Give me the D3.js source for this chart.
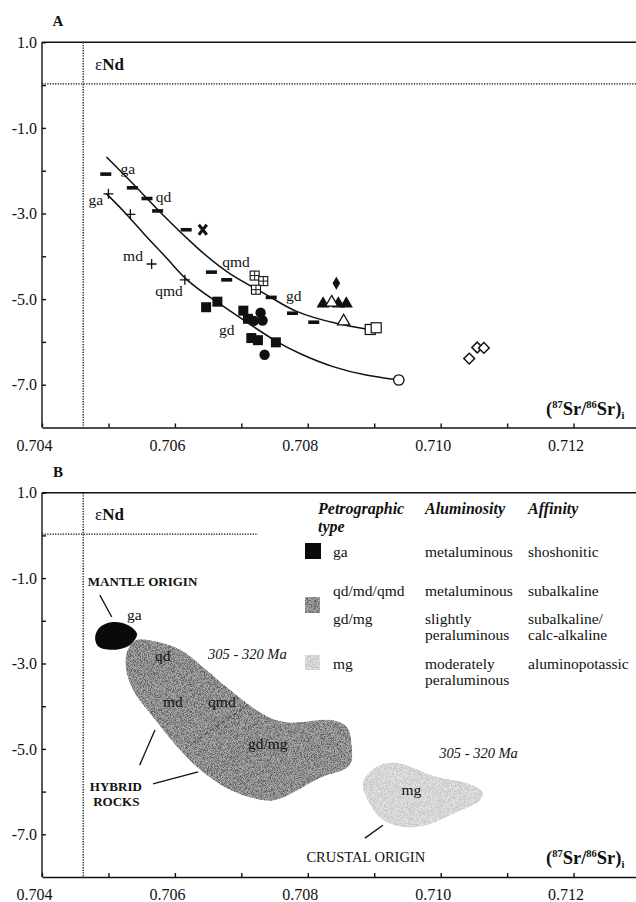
<!DOCTYPE html>
<meta charset="utf-8">
<style>
  body { margin: 0; background: #fff; }
  svg text { font-family: "Liberation Serif", "Times New Roman", serif; fill: #111; }
  .axis path, .axis line { stroke: #111; stroke-width: 1.4; }
  .axis text { font-size: 16px; }
</style>
<svg width="636" height="902"></svg>
<script src="https://d3js.org/d3.v7.min.js"></script>
<script>
// ---- data ----
var xTicks = [0.704, 0.705, 0.706, 0.707, 0.708, 0.709, 0.710, 0.711, 0.712];
var xTickLabels = ["0.704", "0.706", "0.708", "0.710", "0.712"];
var yTicks = [1, 0, -1, -2, -3, -4, -5, -6, -7];
var yTickLabels = ["1.0", "-1.0", "-3.0", "-5.0", "-7.0"];

// panel A samples [87Sr/86Sr_i, eNd]
var barPts = [[0.70496, -2.08], [0.70536, -2.40], [0.70558, -2.65], [0.70574, -2.94], [0.70617, -3.38],
              [0.70655, -4.37], [0.70678, -4.55], [0.70745, -4.96], [0.70777, -5.33], [0.70809, -5.54]];
var crossPts = [[0.70642, -3.38]];
var gridSqPts = [[0.70720, -4.45], [0.70733, -4.58], [0.70722, -4.78]];
var plusPts = [[0.70500, -2.54], [0.70533, -3.02], [0.70565, -4.18], [0.70615, -4.55]];
var filledSqPts = [[0.70647, -5.19], [0.70664, -5.06], [0.70703, -5.27], [0.70710, -5.46],
                   [0.70715, -5.91], [0.70725, -5.96], [0.70752, -6.01]];
var filledCirclePts = [[0.70719, -5.51], [0.70729, -5.32], [0.70732, -5.50], [0.70735, -6.30]];
var filledTriPts = [[0.70823, -5.11], [0.70846, -5.11], [0.70858, -5.11]];
var openTriPts = [[0.70836, -5.08], [0.70854, -5.52]];
var filledDiamondPts = [[0.70843, -4.63]];
var openSqPts = [[0.70894, -5.71], [0.70903, -5.67]];
var openCirclePts = [[0.70937, -6.89]];
var openDiamondPts = [[0.71043, -6.39], [0.71055, -6.13], [0.71065, -6.14]];

// trend curves
var upperTrend = [[0.70497, -1.68], [0.70547, -2.46], [0.70577, -2.97], [0.70635, -3.84], [0.70683, -4.45],
                  [0.70743, -4.92], [0.70777, -5.30], [0.70848, -5.60], [0.70888, -5.70]];
var lowerTrend = [[0.70497, -2.54], [0.70527, -3.00], [0.70557, -3.55], [0.70592, -4.10], [0.70615, -4.55],
                  [0.70663, -5.07], [0.70698, -5.43], [0.70753, -6.01], [0.70788, -6.28], [0.70838, -6.60],
                  [0.70888, -6.79], [0.70937, -6.89]];

var aLabels = [["ga", 0.70529, -2.08], ["qd", 0.70583, -2.72], ["ga", 0.70481, -2.81], ["md", 0.70537, -4.12],
               ["qmd", 0.70692, -4.24], ["qmd", 0.70591, -4.92], ["gd", 0.70779, -5.04], ["gd", 0.70678, -5.83]];

// panel B fields
var gaField = [[0.70480, -2.37], [0.70487, -2.15], [0.70507, -2.03], [0.70529, -2.10], [0.70543, -2.31],
               [0.70532, -2.57], [0.70505, -2.68], [0.70484, -2.59]];
var hybridField = [[0.70542, -2.45], [0.70567, -2.47], [0.70608, -2.68], [0.70642, -3.08], [0.70687, -3.67],
                   [0.70728, -4.14], [0.70765, -4.37], [0.70838, -4.33], [0.70859, -4.49], [0.70866, -4.91],
                   [0.70863, -5.38], [0.70818, -5.68], [0.70750, -6.20], [0.70717, -6.15], [0.70678, -5.92],
                   [0.70638, -5.49], [0.70608, -5.03], [0.70567, -4.25], [0.70537, -3.62], [0.70526, -3.08],
                   [0.70529, -2.68]];
var mgField = [[0.70883, -5.80], [0.70904, -5.42], [0.70934, -5.33], [0.70994, -5.66], [0.71039, -5.80],
               [0.71063, -6.01], [0.71059, -6.20], [0.71024, -6.48], [0.70979, -6.78], [0.70943, -6.83],
               [0.70913, -6.66], [0.70893, -6.27]];
var qmdDash = [[0.70710, -3.97], [0.70627, -4.86]];
var pointers = [[[0.70487, -1.40], [0.70505, -1.91]], [[0.70547, -5.38], [0.70570, -4.56]],
                [[0.70567, -5.82], [0.70635, -5.54]], [[0.70886, -7.09], [0.70913, -6.79]]];
var bLabels = [["MANTLE ORIGIN", 0.70469, -1.19, "cap"], ["ga", 0.70528, -1.98, "n"], ["qd", 0.70570, -2.94, "n"],
               ["305 - 320 Ma", 0.70650, -2.90, "it"], ["md", 0.70582, -4.02, "n"], ["qmd", 0.70650, -4.02, "n"],
               ["gd/mg", 0.70710, -5.00, "n"], ["HYBRID", 0.70472, -5.99, "cap"], ["ROCKS", 0.70477, -6.34, "cap"],
               ["305 - 320 Ma", 0.70998, -5.21, "it"], ["mg", 0.70941, -6.08, "n"], ["CRUSTAL ORIGIN", 0.70798, -7.65, "cap2"]];

var legendTypes = ["ga", "qd/md/qmd", "gd/mg", "mg"];
var legendAlum = [["metaluminous"], ["metaluminous"], ["slightly", "peraluminous"], ["moderately", "peraluminous"]];
var legendAff = [["shoshonitic"], ["subalkaline"], ["subalkaline/", "calc-alkaline"], ["aluminopotassic"]];

// ---- scales ----
var svg = d3.select("svg");
var x = d3.scaleLinear().domain([0.704, 0.713]).range([42, 640]);
var yA = d3.scaleLinear().domain([-8, 1]).range([427.5, 42.3]);
var yB = d3.scaleLinear().domain([-8, 1]).range([877, 492.7]);

// grainy textures for the fields
var defs = svg.append("defs");
function grain(id, amount, seed) {
  var f = defs.append("filter").attr("id", id);
  f.append("feTurbulence").attr("type", "fractalNoise").attr("baseFrequency", 1.3)
    .attr("numOctaves", 1).attr("seed", seed).attr("result", "noise");
  f.append("feColorMatrix").attr("in", "noise").attr("type", "matrix")
    .attr("values", "1 0 0 0 0  1 0 0 0 0  1 0 0 0 0  0 0 0 0 1").attr("result", "gray");
  var ct = f.append("feComponentTransfer").attr("in", "gray").attr("result", "contrast");
  ["feFuncR", "feFuncG", "feFuncB"].forEach(function(c) {
    ct.append(c).attr("type", "linear").attr("slope", 3).attr("intercept", -1);
  });
  f.append("feComposite").attr("in", "SourceGraphic").attr("in2", "contrast").attr("operator", "arithmetic")
    .attr("k1", 0).attr("k2", 1).attr("k3", amount).attr("k4", -amount / 2).attr("result", "mix");
  f.append("feComposite").attr("in", "mix").attr("in2", "SourceGraphic").attr("operator", "in");
}
grain("grainDark", 0.32, 3);
grain("grainLight", 0.26, 8);

function fmtY(d) { return (d < 0 ? "-" : "") + Math.abs(d).toFixed(1); }

function frame(y, letter, hEnd) {
  var g = svg.append("g");
  g.append("g").attr("class", "axis")
    .attr("transform", "translate(0," + y(-8) + ")")
    .call(d3.axisBottom(x).tickValues(xTicks).tickSize(-4).tickSizeOuter(0).tickPadding(12)
      .tickFormat(function(d) { var s = d.toFixed(3); return xTickLabels.indexOf(s) >= 0 ? s : ""; }))
    .selectAll("text").attr("dx", -8);
  g.append("g").attr("class", "axis")
    .attr("transform", "translate(" + x(0.704) + ",0)")
    .call(d3.axisLeft(y).tickValues(yTicks).tickSize(-4).tickSizeOuter(0).tickPadding(5)
      .tickFormat(function(d) { var s = fmtY(d); return yTickLabels.indexOf(s) >= 0 ? s : ""; }))
    .select(".domain").attr("d", "M0," + y(1) + "V" + y(-8));
  // top border
  g.append("line").attr("x1", x(0.704)).attr("x2", 640).attr("y1", y(1)).attr("y2", y(1))
    .attr("stroke", "#111").attr("stroke-width", 1.4);
  // dotted reference lines
  g.append("line").attr("x1", x(0.70462)).attr("x2", x(0.70462)).attr("y1", y(1)).attr("y2", y(-8))
    .attr("stroke", "#111").attr("stroke-width", 1.3).attr("stroke-dasharray", "1.3,1.3");
  g.append("line").attr("x1", x(0.704)).attr("x2", hEnd).attr("y1", y(0.03)).attr("y2", y(0.03))
    .attr("stroke", "#111").attr("stroke-width", 1.3).attr("stroke-dasharray", "1.3,1.3");
  g.append("text").attr("x", 58).attr("y", y(1) - 16).attr("text-anchor", "middle")
    .attr("font-weight", "bold").attr("font-size", 15).text(letter);
  var e = g.append("text").attr("x", 95).attr("y", y(0.36)).attr("font-size", 17);
  e.append("tspan").text("ε");
  e.append("tspan").attr("font-weight", "bold").text("Nd");
  var t = g.append("text").attr("x", 546).attr("y", y(-7.7)).attr("font-size", 18.5).attr("font-weight", "bold");
  t.append("tspan").text("(");
  t.append("tspan").attr("font-size", 10.5).attr("dy", -7).text("87");
  t.append("tspan").attr("dy", 7).text("Sr/");
  t.append("tspan").attr("font-size", 10.5).attr("dy", -7).text("86");
  t.append("tspan").attr("dy", 7).text("Sr)");
  t.append("tspan").attr("font-size", 10.5).attr("dy", 4).text("i");
  return g;
}

// ---------- panel A ----------
var gA = frame(yA, "A", 640);
var curve = d3.line().x(function(d) { return x(d[0]); }).y(function(d) { return yA(d[1]); }).curve(d3.curveBasis);
gA.selectAll(".trend").data([upperTrend, lowerTrend]).join("path")
  .attr("d", curve).attr("fill", "none").attr("stroke", "#111").attr("stroke-width", 1.5);

function plot(data, draw) {
  gA.append("g").selectAll("g").data(data).join("g")
    .attr("transform", function(d) { return "translate(" + x(d[0]) + "," + yA(d[1]) + ")"; })
    .each(function() { draw(d3.select(this)); });
}
plot(barPts, function(s) { s.append("rect").attr("x", -5.5).attr("y", -1.8).attr("width", 11).attr("height", 3.6).attr("fill", "#111"); });
plot(plusPts, function(s) { s.append("path").attr("d", "M-5,0H5M0,-5V5").attr("stroke", "#111").attr("stroke-width", 1.3); });
plot(crossPts, function(s) { s.append("path").attr("d", "M-4,-5L4,5M4,-5L-4,5").attr("stroke", "#111").attr("stroke-width", 3); });
plot(gridSqPts, function(s) {
  s.append("rect").attr("x", -4.5).attr("y", -4.5).attr("width", 9).attr("height", 9).attr("fill", "#fff").attr("stroke", "#111").attr("stroke-width", 1.1);
  s.append("path").attr("d", "M-4.5,0H4.5M0,-4.5V4.5").attr("stroke", "#111").attr("stroke-width", 1);
});
plot(filledSqPts, function(s) { s.append("rect").attr("x", -5).attr("y", -5).attr("width", 10).attr("height", 10).attr("fill", "#111"); });
plot(filledCirclePts, function(s) { s.append("circle").attr("r", 5.2).attr("fill", "#111"); });
plot(filledTriPts, function(s) { s.append("path").attr("d", d3.symbol(d3.symbolTriangle, 75)()).attr("fill", "#111"); });
plot(openTriPts, function(s) { s.append("path").attr("d", d3.symbol(d3.symbolTriangle, 65)()).attr("fill", "#fff").attr("stroke", "#111").attr("stroke-width", 1.3); });
plot(filledDiamondPts, function(s) { s.append("path").attr("d", d3.symbol(d3.symbolDiamond, 50)()).attr("fill", "#111"); });
plot(openSqPts, function(s) { s.append("rect").attr("x", -5).attr("y", -5).attr("width", 10).attr("height", 10).attr("fill", "#fff").attr("stroke", "#111").attr("stroke-width", 1.2); });
plot(openCirclePts, function(s) { s.append("circle").attr("r", 5.2).attr("fill", "#fff").attr("stroke", "#111").attr("stroke-width", 1.3); });
plot(openDiamondPts, function(s) { s.append("rect").attr("x", -3.8).attr("y", -3.8).attr("width", 7.6).attr("height", 7.6).attr("transform", "rotate(45)").attr("fill", "#fff").attr("stroke", "#111").attr("stroke-width", 1.5); });

gA.append("g").selectAll("text").data(aLabels).join("text")
  .attr("x", function(d) { return x(d[1]); }).attr("y", function(d) { return yA(d[2]); })
  .attr("text-anchor", "middle").attr("font-size", 15.5).text(function(d) { return d[0]; });

// ---------- panel B ----------
var gB = frame(yB, "B", x(0.70725));
var blob = d3.line().x(function(d) { return x(d[0]); }).y(function(d) { return yB(d[1]); }).curve(d3.curveCatmullRomClosed);
gB.append("path").attr("d", blob(hybridField)).attr("fill", "#8e8e8e").attr("filter", "url(#grainDark)");
gB.append("path").attr("d", blob(mgField)).attr("fill", "#d6d6d6").attr("filter", "url(#grainLight)");
gB.append("path").attr("d", blob(gaField)).attr("fill", "#0a0a0a");
var seg = d3.line().x(function(d) { return x(d[0]); }).y(function(d) { return yB(d[1]); });
gB.append("path").attr("d", seg(qmdDash)).attr("stroke", "#333").attr("stroke-width", 1).attr("stroke-dasharray", "4,3").attr("fill", "none");
gB.selectAll(".ptr").data(pointers).join("path").attr("d", seg)
  .attr("stroke", "#111").attr("stroke-width", 1.3).attr("fill", "none");
gB.append("g").selectAll("text").data(bLabels).join("text")
  .attr("x", function(d) { return x(d[1]); }).attr("y", function(d) { return yB(d[2]); })
  .attr("font-size", function(d) { return d[3] === "n" ? 15.5 : d[3] === "cap" ? 13 : 14.5; })
  .attr("font-style", function(d) { return d[3] === "it" ? "italic" : null; })
  .attr("font-weight", function(d) { return d[3] === "cap" ? "bold" : null; })
  .text(function(d) { return d[0]; });

// legend
var lg = gB.append("g").attr("font-size", 15.5);
var head = lg.append("g").attr("font-weight", "bold").attr("font-style", "italic").attr("font-size", 16);
head.append("text").attr("x", 318).attr("y", 514).text("Petrographic");
head.append("text").attr("x", 318).attr("y", 532).text("type");
head.append("text").attr("x", 425).attr("y", 514).text("Aluminosity");
head.append("text").attr("x", 528).attr("y", 514).text("Affinity");
var rowY = [557, 596, 624, 669];
legendTypes.forEach(function(t, i) {
  lg.append("text").attr("x", 333).attr("y", rowY[i]).text(t);
  legendAlum[i].forEach(function(s, j) { lg.append("text").attr("x", 425).attr("y", rowY[i] + 16 * j).text(s); });
  legendAff[i].forEach(function(s, j) { lg.append("text").attr("x", 528).attr("y", rowY[i] + 16 * j).text(s); });
});
lg.append("rect").attr("x", 305).attr("y", 543).attr("width", 16).attr("height", 16).attr("fill", "#0a0a0a");
lg.append("rect").attr("x", 305).attr("y", 597).attr("width", 15).attr("height", 16).attr("fill", "#8e8e8e").attr("filter", "url(#grainDark)");
lg.append("rect").attr("x", 305).attr("y", 655).attr("width", 15).attr("height", 15).attr("fill", "#d6d6d6").attr("filter", "url(#grainLight)");
</script>
